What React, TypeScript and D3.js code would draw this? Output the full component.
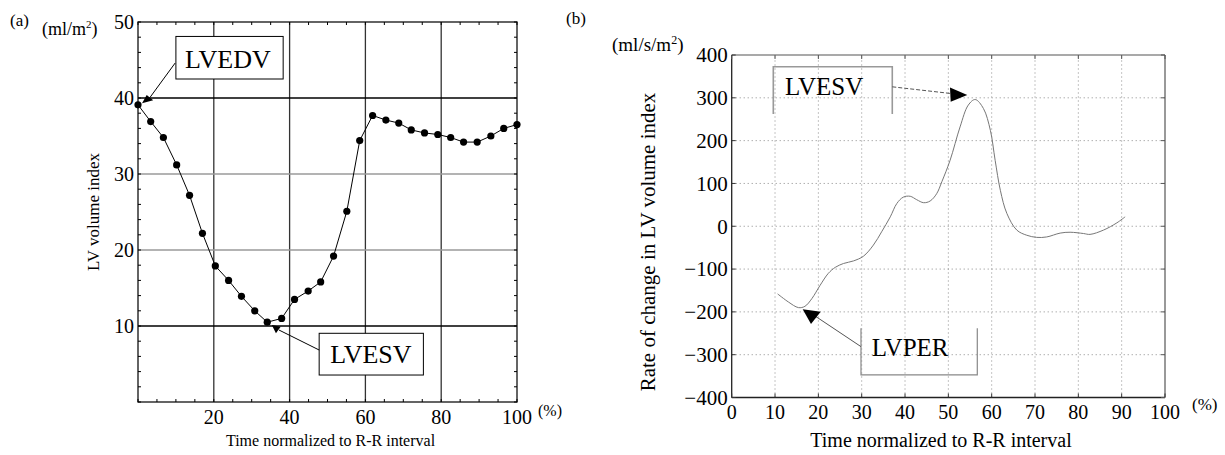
import React from "react";
import * as d3 from "d3";

// (a) LV volume index, sampled over the R-R interval
const volTime = [0, 3.35, 6.7, 10.2, 13.6, 17.0, 20.4, 23.9, 27.3, 30.8, 34.1, 37.9, 41.3, 44.9, 48.2, 51.6, 55.1, 58.5, 61.9, 65.4, 68.8, 72.1, 75.6, 79.1, 82.5, 85.9, 89.5, 93.1, 96.5, 100];
const volIndex = [39.1, 36.9, 34.8, 31.2, 27.2, 22.2, 17.9, 16.0, 13.9, 12.0, 10.5, 11.0, 13.5, 14.6, 15.8, 19.2, 25.1, 34.4, 37.7, 37.1, 36.7, 35.8, 35.4, 35.2, 34.8, 34.2, 34.2, 35.0, 36.0, 36.5];

// (b) rate of change in LV volume index
const rateTime = [10.6, 13.1, 15.4, 16.9, 18.5, 20.4, 22.3, 23.9, 25.8, 28.1, 30.4, 32.7, 34.6, 36.6, 38.1, 39.6, 41.2, 42.7, 44.3, 45.8, 47.3, 48.5, 50.4, 52.7, 54.6, 56.2, 58.1, 59.7, 60.8, 62.0, 63.5, 65.8, 68.1, 70.4, 72.7, 75.8, 78.1, 81.2, 82.7, 85.8, 88.9, 90.8];
const rateValue = [-158, -177, -190, -187, -169, -138, -110, -96, -87, -81, -70, -44, -13, 22, 53, 68, 70, 62, 55, 59, 76, 104, 154, 232, 283, 296, 275, 224, 154, 84, 30, -9, -21, -26, -25, -16, -14, -17, -19, -9, 8, 22];

const aYLabels = [10, 20, 30, 40, 50];
const aXLabels = [20, 40, 60, 80, 100];
const aVGrid = [20, 40, 60, 80];
const aHGridDark = [10, 40];
const aHGridLight = [20, 30];
const bYLabels = [-400, -300, -200, -100, 0, 100, 200, 300, 400];
const bXLabels = [0, 10, 20, 30, 40, 50, 60, 70, 80, 90, 100];

const FONT = "'Liberation Serif', 'DejaVu Serif', serif";

const xA = d3.scaleLinear().domain([0, 100]).range([138, 517]);
const yA = d3.scaleLinear().domain([0, 50]).range([402, 22]);
const xB = d3.scaleLinear().domain([0, 100]).range([731.7, 1165]);
const yB = d3.scaleLinear().domain([-400, 400]).range([397.5, 55]);

const tri = (sx, sy, pts) => pts.map(([x, y]) => `${sx(x)},${sy(y)}`).join(" ");

export default function App() {
  const volPts = volTime.map((t, i) => [t, volIndex[i]]);
  const ratePts = rateTime.map((t, i) => [t, rateValue[i]]);
  const volLine = d3.line().x((d) => xA(d[0])).y((d) => yA(d[1]));
  const rateLine = d3.line().curve(d3.curveCatmullRom).x((d) => xB(d[0])).y((d) => yB(d[1]));

  const aYMinor = d3.range(0, 51, 2);
  const aXMinor = d3.range(0, 101, 5);
  const bXGrid = d3.range(10, 100, 10);
  const bYGrid = d3.range(-300, 400, 100);

  return (
    <svg width={1225} height={455} style={{ position: "absolute", left: 0, top: 0, background: "#fff" }} fontFamily={FONT}>
      {/* ---------- (a) ---------- */}
      <g>
        {aVGrid.map((v) => (
          <line key={"av" + v} x1={xA(v)} x2={xA(v)} y1={yA(0)} y2={yA(50)} stroke="#333" strokeWidth={1.3} />
        ))}
        {aHGridLight.map((v) => (
          <line key={"ahl" + v} x1={xA(0)} x2={xA(100)} y1={yA(v)} y2={yA(v)} stroke="#9a9a9a" strokeWidth={1.5} />
        ))}
        {aHGridDark.map((v) => (
          <line key={"ahd" + v} x1={xA(0)} x2={xA(100)} y1={yA(v)} y2={yA(v)} stroke="#000" strokeWidth={1.3} />
        ))}
        <rect x={xA(0)} y={yA(50)} width={xA(100) - xA(0)} height={yA(0) - yA(50)} fill="none" stroke="#111" strokeWidth={1.3} />
        {aYMinor.map((v) => (
          <g key={"aym" + v}>
            <line x1={xA(0)} x2={xA(0) + 3} y1={yA(v)} y2={yA(v)} stroke="#000" />
            <line x1={xA(100)} x2={xA(100) - 3} y1={yA(v)} y2={yA(v)} stroke="#000" />
          </g>
        ))}
        {aXMinor.map((v) => (
          <g key={"axm" + v}>
            <line x1={xA(v)} x2={xA(v)} y1={yA(0)} y2={yA(0) - 3} stroke="#000" />
            <line x1={xA(v)} x2={xA(v)} y1={yA(50)} y2={yA(50) + 3} stroke="#000" />
          </g>
        ))}
        {aYLabels.map((v) => (
          <text key={"ayl" + v} x={xA(0) - 4} y={yA(v)} dy="0.35em" textAnchor="end" fontSize={20}>{v}</text>
        ))}
        {aXLabels.map((v) => (
          <text key={"axl" + v} x={xA(v)} y={yA(0) + 22} textAnchor="middle" fontSize={20}>{v}</text>
        ))}
        <text x={xA(100) + 21} y={yA(0) + 14} fontSize={16}>(%)</text>
        <text x={10} y={26} fontSize={17}>(a)</text>
        <text x={42} y={35} fontSize={18}>(ml/m<tspan fontSize={11} dy={-7}>2</tspan><tspan dy={7}>)</tspan></text>
        <text transform={`translate(99,${(yA(0) + yA(50)) / 2}) rotate(-90)`} textAnchor="middle" fontSize={17}>LV volume index</text>
        <text x={(xA(0) + xA(100)) / 2 + 3} y={446} textAnchor="middle" fontSize={16}>Time normalized to R-R interval</text>

        <path d={volLine(volPts)} fill="none" stroke="#000" strokeWidth={1} />
        {volPts.map((d, i) => (
          <circle key={"vp" + i} cx={xA(d[0])} cy={yA(d[1])} r={3.6} fill="#000" />
        ))}

        {/* LVEDV callout */}
        <rect x={xA(10)} y={yA(48.1)} width={xA(38.3) - xA(10)} height={yA(42.5) - yA(48.1)} fill="#fff" stroke="#000" strokeWidth={1} />
        <text x={xA(12.4)} y={yA(43.9)} fontSize={26}>LVEDV</text>
        <line x1={xA(9.8)} y1={yA(44.6)} x2={xA(3.2)} y2={yA(40.1)} stroke="#000" strokeWidth={1} />
        <polygon points={tri(xA, yA, [[1.06, 39.3], [2.3, 40.4], [4.0, 39.7]])} fill="#000" />

        {/* LVESV callout */}
        <rect x={xA(47.8)} y={yA(9.04)} width={xA(75.3) - xA(47.8)} height={yA(3.55) - yA(9.04)} fill="#fff" stroke="#000" strokeWidth={1} />
        <text x={xA(50.7)} y={yA(5.1)} fontSize={26}>LVESV</text>
        <line x1={xA(47.8)} y1={yA(6.84)} x2={xA(37.2)} y2={yA(9.47)} stroke="#000" strokeWidth={1} />
        <polygon points={tri(xA, yA, [[35.3, 10.13], [37.65, 9.91], [36.4, 9.04]])} fill="#000" />
      </g>

      {/* ---------- (b) ---------- */}
      <g>
        {bXGrid.map((v) => (
          <line key={"bv" + v} x1={xB(v)} x2={xB(v)} y1={yB(-400)} y2={yB(400)} stroke="#8a8a8a" strokeWidth={1} strokeDasharray="1,3" />
        ))}
        {bYGrid.map((v) => (
          <line key={"bh" + v} x1={xB(0)} x2={xB(100)} y1={yB(v)} y2={yB(v)} stroke="#8a8a8a" strokeWidth={1} strokeDasharray="1,3" />
        ))}
        <line x1={xB(0)} x2={xB(100)} y1={yB(400)} y2={yB(400)} stroke="#555" strokeWidth={1.2} />
        <line x1={xB(100)} x2={xB(100)} y1={yB(-400)} y2={yB(400)} stroke="#555" strokeWidth={1.2} />
        <line x1={xB(0)} x2={xB(0)} y1={yB(-400)} y2={yB(400)} stroke="#222" strokeWidth={1.3} />
        <line x1={xB(0)} x2={xB(100)} y1={yB(-400)} y2={yB(-400)} stroke="#222" strokeWidth={1.3} />
        {bXLabels.map((v) => (
          <g key={"bxt" + v}>
            <line x1={xB(v)} x2={xB(v)} y1={yB(-400)} y2={yB(-400) - 4} stroke="#333" />
            <line x1={xB(v)} x2={xB(v)} y1={yB(400)} y2={yB(400) + 4} stroke="#555" />
            <text x={xB(v)} y={yB(-400) + 21} textAnchor="middle" fontSize={20}>{v}</text>
          </g>
        ))}
        {bYLabels.map((v) => (
          <g key={"byt" + v}>
            <line x1={xB(0)} x2={xB(0) + 4} y1={yB(v)} y2={yB(v)} stroke="#333" />
            <line x1={xB(100)} x2={xB(100) - 4} y1={yB(v)} y2={yB(v)} stroke="#555" />
            <text x={xB(0) - 4} y={yB(v)} dy="0.35em" textAnchor="end" fontSize={21}>{d3.format("")(v)}</text>
          </g>
        ))}
        <text x={xB(100) + 27} y={yB(-400) + 12} fontSize={17}>(%)</text>
        <text x={566} y={24} fontSize={17}>(b)</text>
        <text x={612} y={51} fontSize={19}>(ml/s/m<tspan fontSize={12} dy={-7}>2</tspan><tspan dy={7}>)</tspan></text>
        <text transform={`translate(655,242) rotate(-90)`} textAnchor="middle" fontSize={21}>Rate of change in LV volume index</text>
        <text x={941} y={447} textAnchor="middle" fontSize={20}>Time normalized to R-R interval</text>

        <path d={rateLine(ratePts)} fill="none" stroke="#777" strokeWidth={1} />

        {/* LVESV callout (open bottom) */}
        <path
          d={`M${xB(9.6)},${yB(262)}V${yB(372.4)}H${xB(37.06)}V${yB(262)}`}
          fill="none" stroke="#999" strokeWidth={1.6}
        />
        <text x={xB(12.3)} y={yB(306.4)} fontSize={25}>LVESV</text>
        <line x1={xB(37.06)} y1={yB(325.7)} x2={xB(50.38)} y2={yB(310.3)} stroke="#555" strokeWidth={1} strokeDasharray="4,2" />
        <polygon points={tri(xB, yB, [[50.38, 324.3], [50.54, 290.7], [54.37, 306.4]])} fill="#000" />

        {/* LVPER callout (open top) */}
        <path
          d={`M${xB(29.84)},${yB(-238.2)}V${yB(-347.2)}H${xB(56.68)}V${yB(-238.2)}`}
          fill="none" stroke="#888" strokeWidth={1.2}
        />
        <text x={xB(32.3)} y={yB(-302.9)} fontSize={25}>LVPER</text>
        <line x1={xB(29.84)} y1={yB(-281.2)} x2={xB(19.22)} y2={yB(-209.5)} stroke="#555" strokeWidth={1} />
        <polygon points={tri(xB, yB, [[16.39, -193.9], [20.54, -199.5], [18.3, -228.2]])} fill="#000" />
      </g>
    </svg>
  );
}
